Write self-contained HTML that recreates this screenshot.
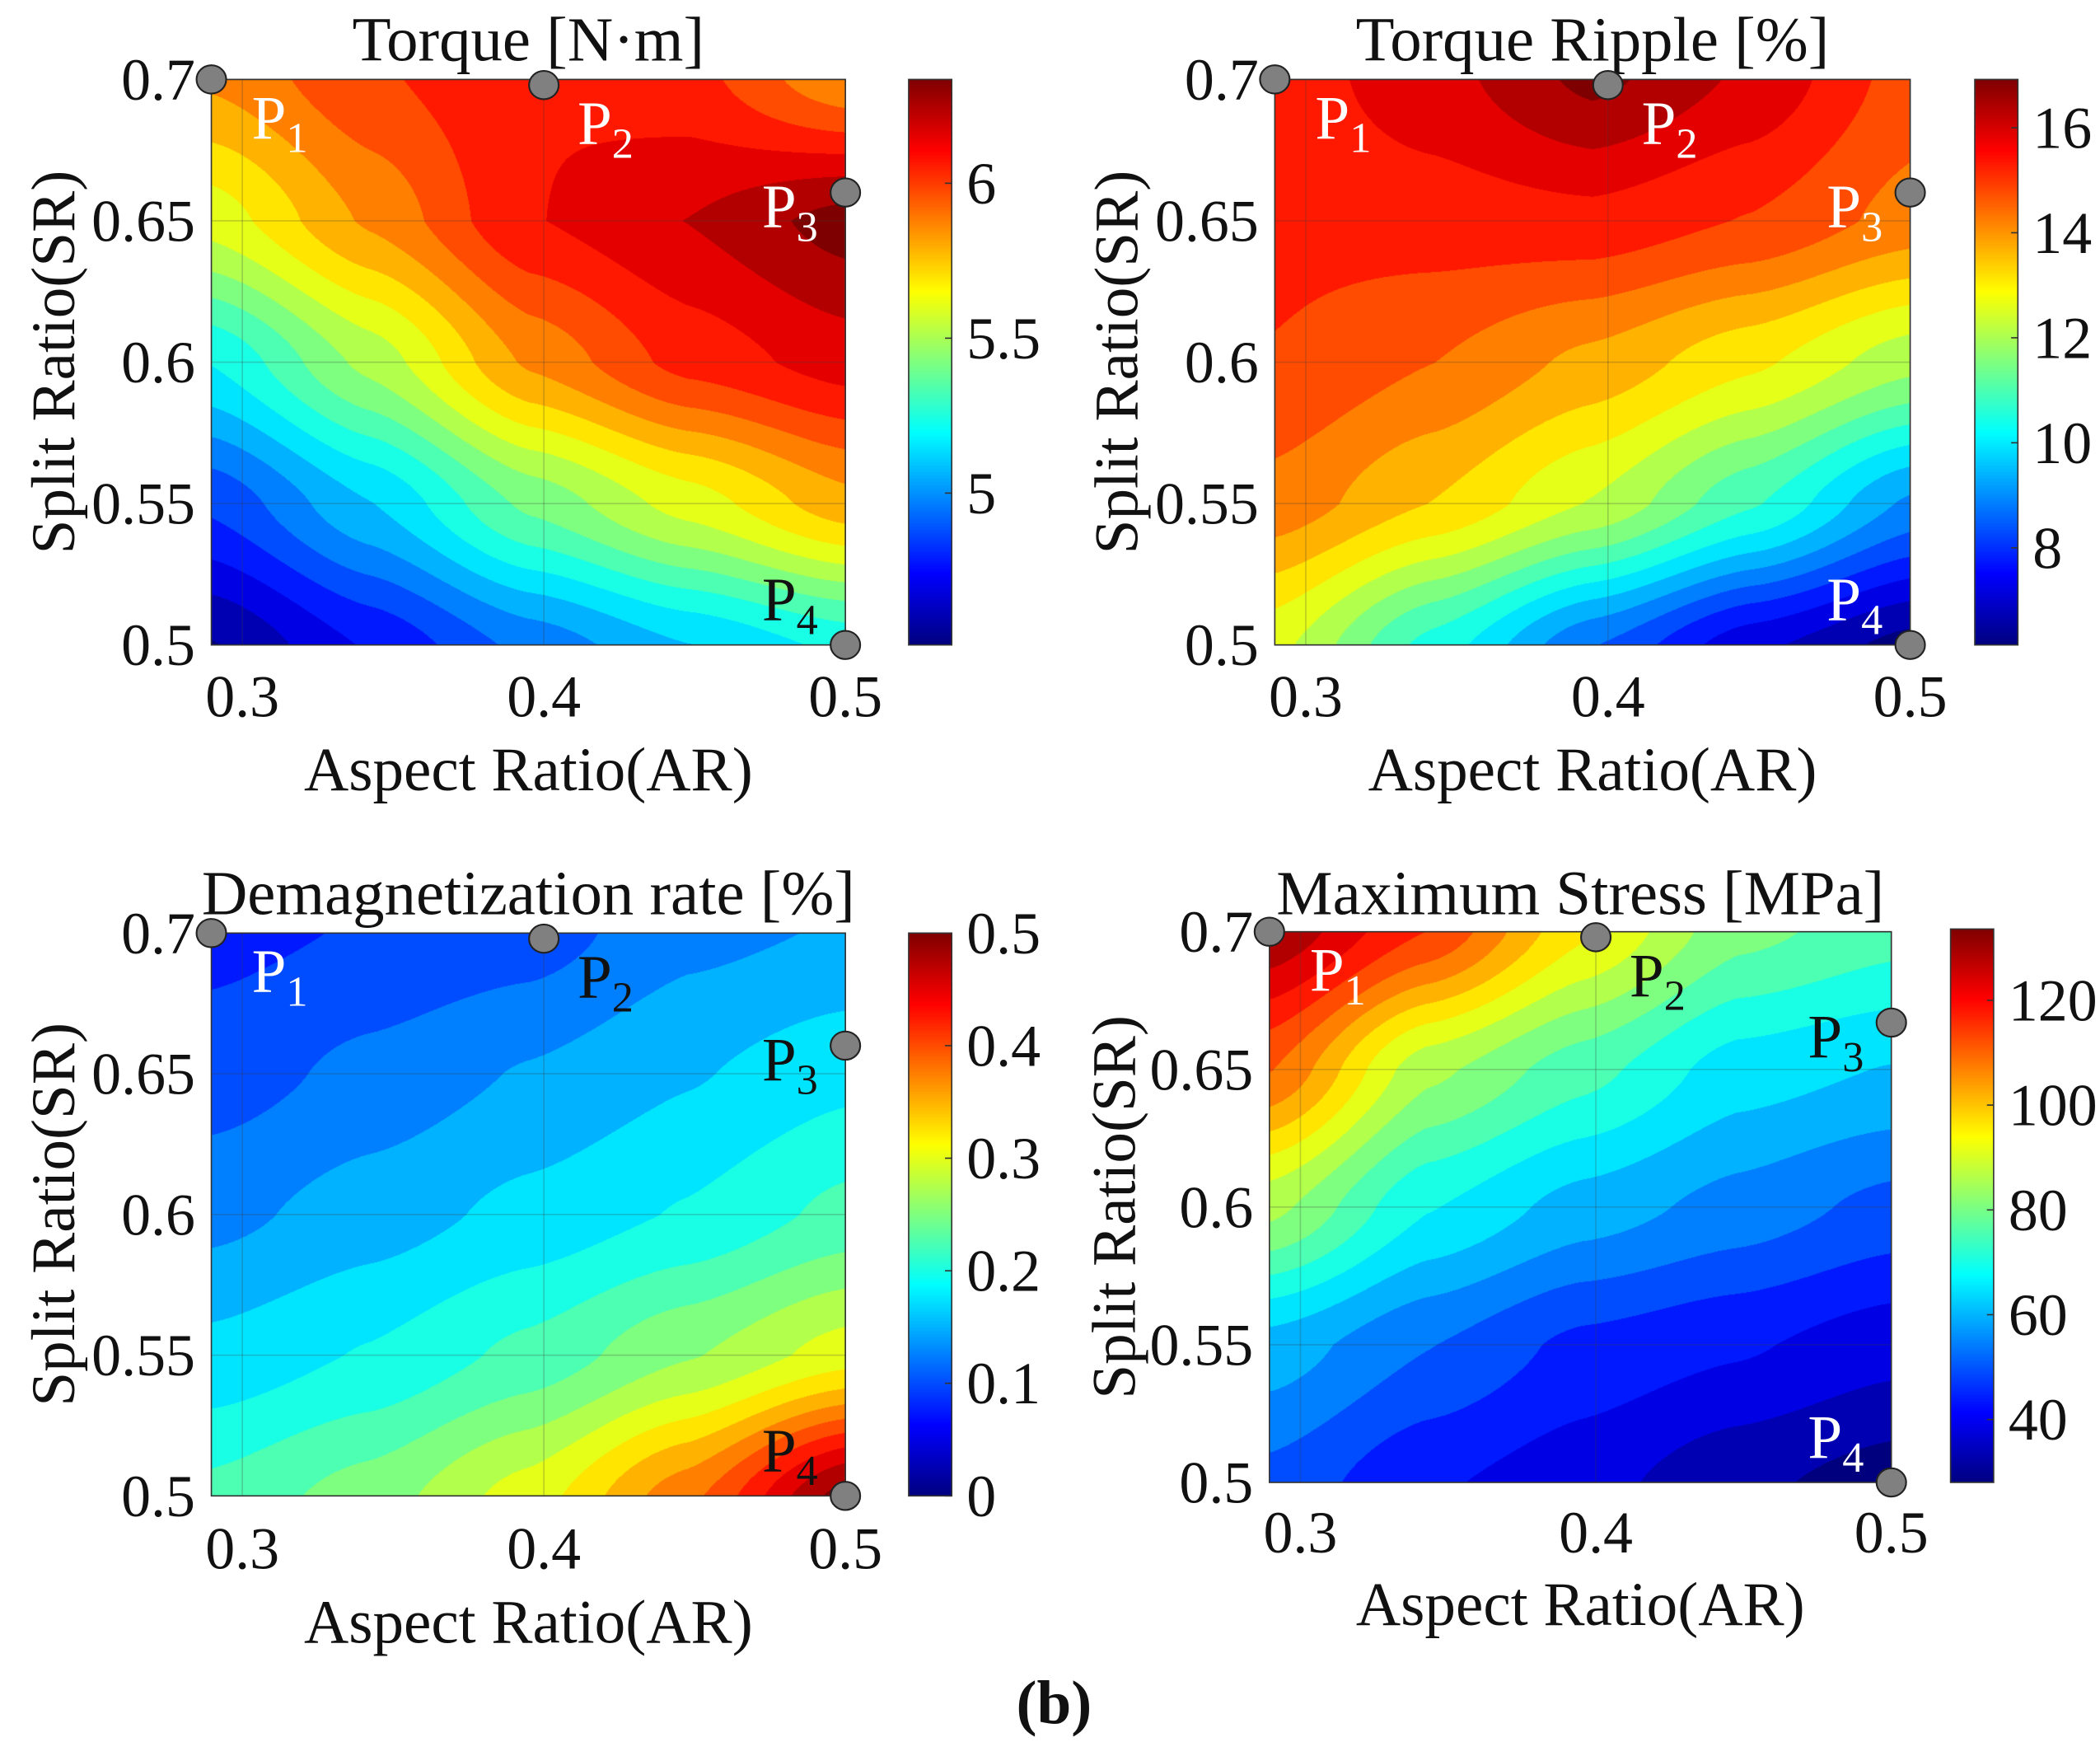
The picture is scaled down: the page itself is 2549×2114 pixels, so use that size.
<!DOCTYPE html>
<html><head><meta charset="utf-8">
<style>
html,body{margin:0;padding:0;background:#fff;}
#wrap{position:relative;width:2549px;height:2114px;overflow:hidden;}
canvas{position:absolute;}
svg{position:absolute;left:0;top:0;}
text{font-family:"Liberation Serif",serif;fill:#111;}
</style></head>
<body>
<div id="wrap">
<svg id="svg" width="2549" height="2114" viewBox="0 0 1560 1293.8"></svg>
</div>
<script>
// ---- data (grid nodes) ----
const arNodes = [0.29, 0.3425, 0.395, 0.4475, 0.5];
const srNodes = [0.7, 0.65, 0.6, 0.55, 0.5];
const torqueValues = [
 [5.85, 6.0, 6.1, 6.05, 5.85],
 [5.6, 5.85, 6.1, 6.2, 6.33],
 [5.2, 5.5, 5.85, 6.05, 6.15],
 [4.85, 5.1, 5.4, 5.6, 5.8],
 [4.55, 4.75, 4.95, 5.1, 5.22]];
const rippleValues = [
 [15.3, 15.9, 16.8, 16.0, 14.8],
 [15.2, 15.3, 15.4, 15.0, 14.3],
 [15.0, 14.5, 13.8, 13.0, 12.0],
 [14.3, 13.4, 12.3, 10.8, 9.0],
 [12.5, 10.5, 8.6, 7.1, 6.2]];
const demagValues = [
 [0.08, 0.09, 0.10, 0.13, 0.14],
 [0.10, 0.12, 0.14, 0.16, 0.18],
 [0.13, 0.15, 0.17, 0.19, 0.22],
 [0.17, 0.19, 0.22, 0.26, 0.30],
 [0.22, 0.25, 0.30, 0.38, 0.50]];
const stressValues = [
 [130, 115, 95, 80, 75],
 [110, 85, 75, 65, 62],
 [85, 68, 60, 55, 50],
 [60, 52, 45, 42, 38],
 [50, 42, 38, 32, 28]];
const xTickValues = [0.3, 0.4, 0.5];
const yTickValues = [0.7, 0.65, 0.6, 0.55, 0.5];
const yTickLabels = ["0.7", "0.65", "0.6", "0.55", "0.5"];
const torqueCbTicks = [5, 5.5, 6];
const rippleCbTicks = [8, 10, 12, 14, 16];
const demagCbTicks = [0, 0.1, 0.2, 0.3, 0.4, 0.5];
const stressCbTicks = [40, 60, 80, 100, 120];
const pointNames = ["P1", "P2", "P3", "P4"];
const pointAR = [0.29, 0.4, 0.5, 0.5];
const pointSR = [0.7, 0.698, 0.66, 0.5];

const S = 2549/1560;
const panels = [
 {name:"torque", title:"Torque [N·m]", vals:torqueValues, vmin:4.51, vmax:6.335, cbt:torqueCbTicks,
  plot:[157,59,628,479], xa:180, xb:628, cb:[675,59,707,479], lblCol:["#fff","#fff","#fff","#111"], titleY:45, xtY:532, xlY:587, ylX:55, p3sr:0.66},
 {name:"torque-ripple", title:"Torque Ripple [%]", vals:rippleValues, vmin:6.15, vmax:16.92, cbt:rippleCbTicks,
  plot:[947,59,1419,479], xa:970, xb:1419, cb:[1467,59,1499,479], lblCol:["#fff","#fff","#fff","#fff"], titleY:45, xtY:532, xlY:587, ylX:845, p3sr:0.66},
 {name:"demagnetization", title:"Demagnetization rate [%]", vals:demagValues, vmin:0, vmax:0.5, cbt:demagCbTicks,
  plot:[157,693,628,1111], xa:180, xb:628, cb:[675,693,707,1111], lblCol:["#fff","#111","#111","#111"], titleY:679, xtY:1165, xlY:1220, ylX:55, p3sr:0.66},
 {name:"maximum-stress", title:"Maximum Stress [MPa]", vals:stressValues, vmin:28, vmax:133.6, cbt:stressCbTicks,
  plot:[943,692,1405,1101], xa:966, xb:1405, cb:[1449,690,1481,1101], lblCol:["#fff","#111","#111","#fff"], titleY:679, xtY:1153, xlY:1207, ylX:843, p3sr:0.667}
];

function jet(t){
  t=Math.max(0,Math.min(1,t));
  const r=Math.max(0,Math.min(1,1.5-Math.abs(4*t-3)));
  const g=Math.max(0,Math.min(1,1.5-Math.abs(4*t-2)));
  const b=Math.max(0,Math.min(1,1.5-Math.abs(4*t-1)));
  return [r*255|0,g*255|0,b*255|0];
}
function interp(vals, ar, sr){
  let fx=(ar-arNodes[0])/(arNodes[arNodes.length-1]-arNodes[0])*(arNodes.length-1);
  let fy=(srNodes[0]-sr)/(srNodes[0]-srNodes[srNodes.length-1])*(srNodes.length-1);
  fx=Math.max(0,Math.min(arNodes.length-1.0001,fx));
  fy=Math.max(0,Math.min(srNodes.length-1.0001,fy));
  const i=Math.floor(fx), j=Math.floor(fy), u=fx-i, v=fy-j;
  const su=u*u*(3-2*u)*0.5+u*0.5, sv=v*v*(3-2*v)*0.5+v*0.5;
  const a=vals[j][i], b=vals[j][i+1], c=vals[j+1][i], d=vals[j+1][i+1];
  return a*(1-su)*(1-sv)+b*su*(1-sv)+c*(1-su)*sv+d*su*sv;
}
const svg=document.getElementById('svg');
const wrap=document.getElementById('wrap');
const NS="http://www.w3.org/2000/svg";
function el(tag,attrs,parent){const e=document.createElementNS(NS,tag);for(const k in attrs)e.setAttribute(k,attrs[k]);(parent||svg).appendChild(e);return e;}
const LEVELS=20;

panels.forEach(p=>{
  const [x0,y0,x1,y1]=p.plot;
  const xS=ar=>p.xa+(ar-0.3)/0.2*(p.xb-p.xa);
  const arOf=px=>0.3+(px-p.xa)/(p.xb-p.xa)*0.2;
  const yS=sr=>y1-(sr-0.5)/0.2*(y1-y0);
  const srOf=py=>0.5+(y1-py)/(y1-y0)*0.2;
  const cv=document.createElement('canvas');
  
  
  const W=Math.round((x1-x0)*S), H=Math.round((y1-y0)*S);
  cv.width=W; cv.height=H; cv.style.left=Math.round(x0*S)+'px'; cv.style.top=Math.round(y0*S)+'px';
  wrap.insertBefore(cv,svg);
  const ctx=cv.getContext('2d'); const img=ctx.createImageData(W,H);
  for(let py=0;py<H;py++){const sr=srOf(y0+py/S);
    for(let px=0;px<W;px++){const ar=arOf(x0+px/S);
      const v=interp(p.vals,ar,sr);
      let t=(v-p.vmin)/(p.vmax-p.vmin); t=Math.floor(Math.max(0,Math.min(0.999,t))*LEVELS+0.5)/LEVELS;
      const c=jet(t);const k=(py*W+px)*4;img.data[k]=c[0];img.data[k+1]=c[1];img.data[k+2]=c[2];img.data[k+3]=255;}}
  ctx.putImageData(img,0,0);
  const [c0,cy0,c1,cy1]=p.cb;
  const cb=document.createElement('canvas');
  
  
  const CW=Math.round((c1-c0)*S), CH=Math.round((cy1-cy0)*S);
  cb.width=CW; cb.height=CH; cb.style.left=Math.round(c0*S)+'px'; cb.style.top=Math.round(cy0*S)+'px';
  wrap.insertBefore(cb,svg);
  const cc=cb.getContext('2d');
  for(let y=0;y<CH;y++){const c=jet(1-y/CH);cc.fillStyle=`rgb(${c[0]},${c[1]},${c[2]})`;cc.fillRect(0,y,CW,1);}
  const g=el('g',{});  
  xTickValues.forEach(v=>{const l=el('line',{x1:xS(v),x2:xS(v),y1:y0,y2:y1,stroke:'rgba(60,60,60,0.25)','stroke-width':1},g);
    });
  yTickValues.forEach(v=>{const l=el('line',{x1:x0,x2:x1,y1:yS(v),y2:yS(v),stroke:'rgba(60,60,60,0.25)','stroke-width':1},g);
    });
  const fr=el('rect',{x:x0,y:y0,width:x1-x0,height:y1-y0,fill:'none',stroke:'#333','stroke-width':1},g);
  
  const cf=el('rect',{x:c0,y:cy0,width:c1-c0,height:cy1-cy0,fill:'none',stroke:'#333','stroke-width':1},g);
  
  const t=el('text',{x:(x0+x1)/2,y:p.titleY,'text-anchor':'middle','font-size':47},g);t.textContent=p.title;
  
  xTickValues.forEach(v=>{const tx=el('text',{x:xS(v),y:p.xtY,'text-anchor':'middle','font-size':44},g);tx.textContent=String(v);
    });
  yTickValues.forEach((v,i)=>{const tx=el('text',{x:x0-12,y:yS(v)+15,'text-anchor':'end','font-size':44},g);tx.textContent=yTickLabels[i];
    });
  const xl=el('text',{x:(x0+x1)/2,y:p.xlY,'text-anchor':'middle','font-size':46},g);xl.textContent='Aspect Ratio(AR)';
  
  const cyl=(y0+y1)/2;
  const yl=el('text',{x:p.ylX,y:cyl,'text-anchor':'middle','font-size':46,transform:`rotate(-90 ${p.ylX} ${cyl})`},g);yl.textContent='Split Ratio(SR)';
  
  p.cbt.forEach(v=>{const yy=cy1-(v-p.vmin)/(p.vmax-p.vmin)*(cy1-cy0);
    const tk=el('line',{x1:c1-5,x2:c1,y1:yy,y2:yy,stroke:'#333','stroke-width':1},g);
    
    const tx=el('text',{x:c1+11,y:yy+15,'font-size':44},g);tx.textContent=String(v);
    });
  pointNames.forEach((n,i)=>{const sr=(i===2)?p.p3sr:pointSR[i];
    const cx=(i===0)?x0:xS(pointAR[i]), cy=yS(sr);
    const c=el('ellipse',{cx:cx,cy:cy,rx:11,ry:10.5,fill:'#808080',stroke:'#222','stroke-width':1.3},g);
    
    const lx=(i===0)?cx+30:(i===1?cx+25:cx-62), ly=(i===0||i===1)?cy+44:(i===2?cy+26:cy-18);
    const tx=el('text',{x:lx,y:ly,'font-size':46,fill:p.lblCol[i]},g);
    
    tx.style.fill=p.lblCol[i];
    tx.textContent='P';const sub=el('tspan',{'font-size':32,dy:10},tx);sub.textContent=n.slice(1);sub.style.fill=p.lblCol[i];});
});
const b=el('text',{x:783,y:1280,'text-anchor':'middle','font-size':46,'font-weight':'bold'});
b.textContent='(b)';


</script>
</body></html>
